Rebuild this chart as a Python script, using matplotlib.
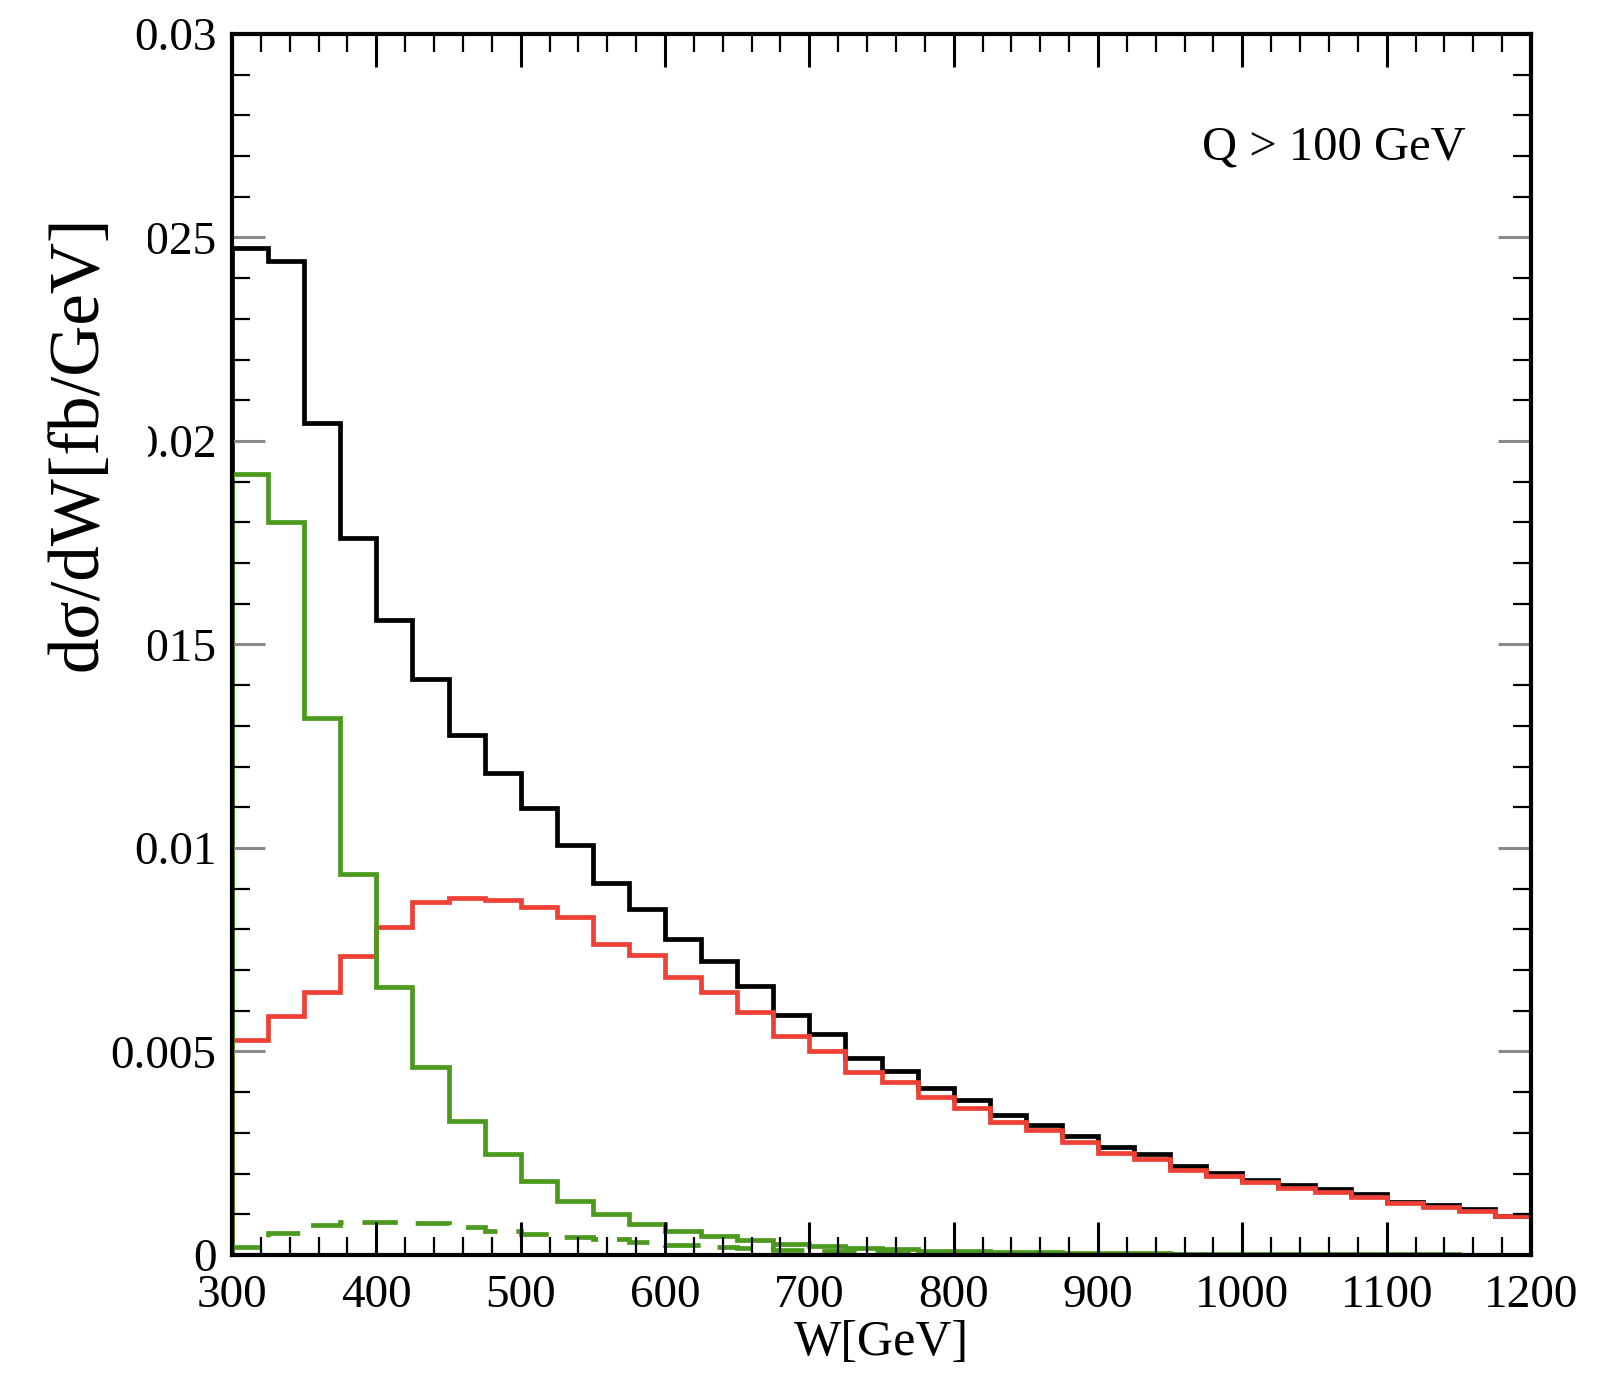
import matplotlib
matplotlib.use('Agg')
import matplotlib.pyplot as plt
import numpy as np
from matplotlib.ticker import MultipleLocator, FixedLocator, FixedFormatter

plt.rcParams['font.family'] = ['Liberation Serif', 'DejaVu Serif']

# W bin edges, 25 GeV bins from 300 to 1200
w_edges = np.arange(300, 1201, 25)

# dsigma/dW in units of 1e-3 fb/GeV
total = [24.75, 24.42, 20.45, 17.61, 15.59, 14.14, 12.78, 11.85, 10.98, 10.07,
         9.14, 8.50, 7.76, 7.22, 6.60, 5.89, 5.43, 4.83, 4.53, 4.10,
         3.80, 3.43, 3.20, 2.92, 2.65, 2.48, 2.18, 2.02, 1.85, 1.71,
         1.63, 1.50, 1.31, 1.22, 1.12, 0.97]
red_part = [5.29, 5.86, 6.47, 7.34, 8.07, 8.67, 8.78, 8.73, 8.56, 8.30,
            7.65, 7.38, 6.83, 6.46, 5.96, 5.39, 5.02, 4.50, 4.25, 3.88,
            3.60, 3.27, 3.06, 2.78, 2.51, 2.36, 2.10, 1.95, 1.79, 1.64,
            1.56, 1.42, 1.27, 1.17, 1.08, 0.95]
green_part = [19.2, 18.0, 13.2, 9.36, 6.59, 4.63, 3.29, 2.47, 1.82, 1.33,
              1.01, 0.77, 0.60, 0.46, 0.36, 0.28, 0.22, 0.17, 0.14, 0.11,
              0.09, 0.08, 0.065, 0.055, 0.045, 0.04, 0.035, 0.03, 0.026, 0.023,
              0.02, 0.018, 0.016, 0.014, 0.012, 0.011]
green_dashed = [0.19, 0.53, 0.74, 0.82, 0.82, 0.78, 0.70, 0.60, 0.52, 0.45,
                0.39, 0.31, 0.25, 0.20, 0.16, 0.13, 0.10, 0.08, 0.065, 0.055,
                0.045, 0.037, 0.03, 0.025, 0.02, 0.017, 0.014, 0.012, 0.01, 0.009,
                0.008, 0.007, 0.006, 0.005, 0.004, 0.004]

y_ticks = [0, 0.005, 0.01, 0.015, 0.02, 0.025, 0.03]
y_ticklabels = ['0', '0.005', '0.01', '0.015', '0.02', '0.025', '0.03']
x_ticks = [300, 400, 500, 600, 700, 800, 900, 1000, 1100, 1200]

scale = 1e-3
fig = plt.figure(figsize=(16.24, 13.78), dpi=100)
ax = fig.add_axes([0.14286, 0.08926, 0.79988, 0.88607])

lw = 3.4
ax.stairs(np.array(total) * scale, w_edges, color='black', lw=lw)
ax.stairs(np.array(red_part) * scale, w_edges, color='#EE4035', lw=lw)
ax.stairs(np.array(green_part) * scale, w_edges, color='#4B9A1E', lw=lw)
ax.stairs(np.array(green_dashed) * scale, w_edges, color='#4B9A1E', lw=lw,
          linestyle=(0, (7.5, 4)))

ax.set_xlim(300, 1200)
ax.set_ylim(0, 0.03)

ax.xaxis.set_major_locator(FixedLocator(x_ticks))
ax.xaxis.set_minor_locator(MultipleLocator(20))
ax.yaxis.set_major_locator(FixedLocator(y_ticks))
ax.yaxis.set_major_formatter(FixedFormatter(y_ticklabels))
ax.yaxis.set_minor_locator(MultipleLocator(0.001))

for s in ax.spines.values():
    s.set_linewidth(3)

ax.tick_params(which='both', direction='in', top=True, right=True)
ax.tick_params(which='major', length=24, width=2.2)
ax.tick_params(which='minor', length=13, width=1.6)
ax.tick_params(axis='y', which='major', color='#8a8a8a', pad=11, labelsize=34)
ax.tick_params(axis='x', which='major', pad=14, labelsize=34)

ax.set_xlabel('W[GeV]', fontsize=36, labelpad=2)
ax.set_ylabel('dσ/dW[fb/GeV]', fontsize=51,
              bbox=dict(facecolor='white', edgecolor='none', pad=26))
ax.yaxis.set_label_coords(-0.0924, 0.665)

ax.text(1155, 0.0272, 'Q > 100 GeV', fontsize=35, ha='right', va='center')

fig.savefig('out.png', dpi=100)
